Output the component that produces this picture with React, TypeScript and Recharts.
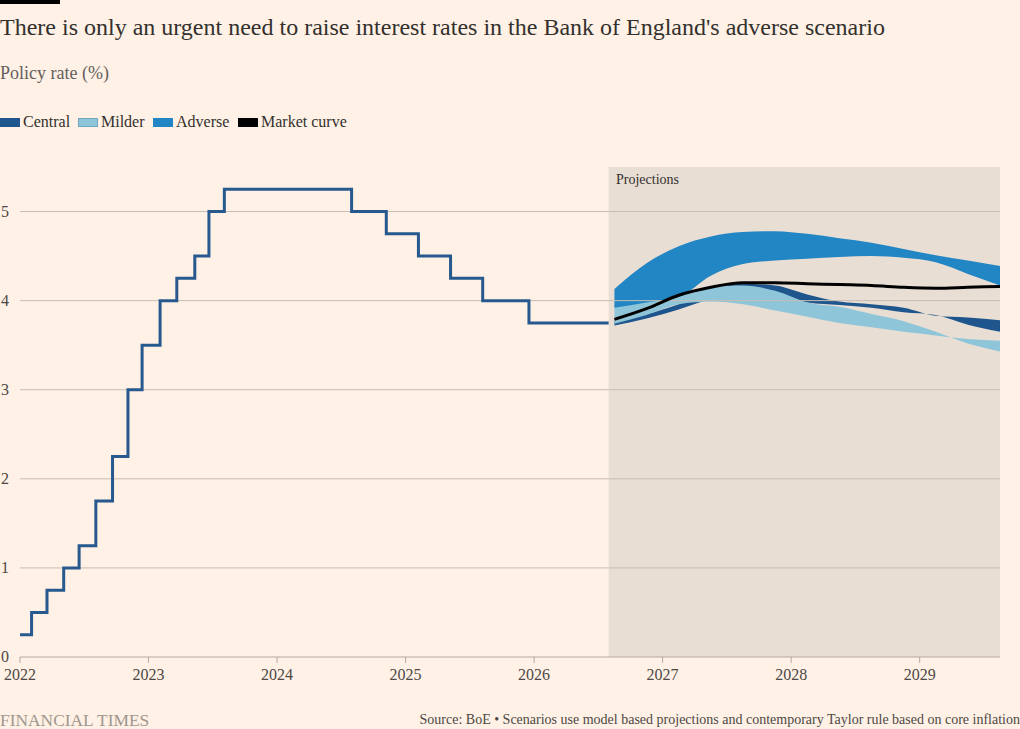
import React from "react";
import {
  ComposedChart,
  Line,
  Area,
  XAxis,
  YAxis,
  ReferenceArea,
  ReferenceLine,
} from "recharts";

// tick labels
const yearTicks = [2022, 2023, 2024, 2025, 2026, 2027, 2028, 2029];
const rateTicks = [0, 1, 2, 3, 4, 5];

// Bank Rate history (decimal year of each decision, new rate)
const historyDates = [
  2022.0, 2022.09, 2022.21, 2022.34, 2022.46, 2022.59, 2022.72, 2022.84,
  2022.95, 2023.09, 2023.22, 2023.36, 2023.47, 2023.59, 2024.58, 2024.85,
  2025.1, 2025.35, 2025.6, 2025.96, 2026.58,
];
const historyRates = [
  0.25, 0.5, 0.75, 1.0, 1.25, 1.75, 2.25, 3.0, 3.5, 4.0, 4.25, 4.5, 5.0, 5.25,
  5.0, 4.75, 4.5, 4.25, 4.0, 3.75, 3.75,
];

// projections, quarterly
const projDates = [
  2026.625, 2026.875, 2027.125, 2027.375, 2027.625, 2027.875, 2028.125,
  2028.375, 2028.625, 2028.875, 2029.125, 2029.375, 2029.625,
];
const centralLow = [3.72, 3.8, 3.9, 4.02, 4.1, 4.05, 3.98, 3.95, 3.92, 3.87, 3.84, 3.73, 3.65];
const centralHigh = [3.77, 3.85, 3.96, 4.12, 4.19, 4.17, 4.07, 3.99, 3.96, 3.92, 3.83, 3.81, 3.78];
const milderLow = [3.74, 3.84, 3.96, 3.99, 3.96, 3.89, 3.82, 3.75, 3.7, 3.65, 3.61, 3.57, 3.55];
const milderHigh = [3.95, 4.0, 4.06, 4.15, 4.17, 4.11, 3.98, 3.93, 3.85, 3.77, 3.65, 3.52, 3.43];
const adverseLow = [3.92, 3.98, 4.04, 4.28, 4.41, 4.45, 4.47, 4.49, 4.5, 4.48, 4.43, 4.3, 4.17];
const adverseHigh = [4.13, 4.42, 4.61, 4.72, 4.77, 4.78, 4.75, 4.7, 4.65, 4.58, 4.51, 4.45, 4.39];
const marketCurve = [3.79, 3.91, 4.06, 4.15, 4.2, 4.2, 4.19, 4.18, 4.17, 4.15, 4.14, 4.15, 4.16];

const legendNames = ["Central", "Milder", "Adverse", "Market curve"];
const legendColors = ["#1e558c", "#8fc5d9", "#2386c4", "#000000"];

const history = historyDates.map((t, i) => ({ t, rate: historyRates[i] }));
const projection = projDates.map((t, i) => ({
  t,
  central: [centralLow[i], centralHigh[i]],
  milder: [milderLow[i], milderHigh[i]],
  adverse: [adverseLow[i], adverseHigh[i]],
  market: marketCurve[i],
}));

const serif = "'Liberation Serif', 'Times New Roman', serif";
const legendX = [0, 78, 153, 238];

const YTick = (props: any) => {
  const { y, payload } = props;
  return (
    <text x={1} y={y} dy={5} fill="#4d4845" fontSize={16} fontFamily={serif} textAnchor="start">
      {payload.value}
    </text>
  );
};

export default function App() {
  return (
    <div
      style={{
        position: "absolute",
        left: 0,
        top: 0,
        width: 1020,
        height: 729,
        background: "#fff1e5",
        fontFamily: serif,
        overflow: "hidden",
      }}
    >
      <div style={{ position: "absolute", left: 0, top: 0, width: 60, height: 4, background: "#000" }} />
      <div style={{ position: "absolute", left: 0, top: 12, fontSize: 24, lineHeight: "30px", color: "#33302e", whiteSpace: "nowrap" }}>
        There is only an urgent need to raise interest rates in the Bank of England's adverse scenario
      </div>
      <div style={{ position: "absolute", left: 0, top: 61, fontSize: 18, lineHeight: "24px", color: "#66605c" }}>
        Policy rate (%)
      </div>
      {legendNames.map((name, i) => (
        <div key={name} style={{ position: "absolute", left: legendX[i], top: 112, height: 20, display: "flex", alignItems: "center", whiteSpace: "nowrap" }}>
          <span
            style={{
              display: "inline-block",
              width: 20,
              height: 9,
              background: legendColors[i],
              boxSizing: "border-box",
              border: name === "Milder" ? "1px solid #6fa7c0" : "none",
              marginRight: 3,
            }}
          />
          <span style={{ fontSize: 16, color: "#33302e" }}>{name}</span>
        </div>
      ))}

      <div style={{ position: "absolute", left: 0, top: 0 }}>
        <ComposedChart width={1020} height={729} margin={{ top: 167, right: 20, bottom: 42, left: 0 }}>
          <XAxis
            dataKey="t"
            type="number"
            domain={[2022, 2029.625]}
            ticks={yearTicks}
            allowDataOverflow
            stroke="#b3aaa1"
            tickSize={6}
            tickMargin={6}
            height={30}
            tick={{ fill: "#4d4845", fontSize: 16, fontFamily: serif }}
          />
          <YAxis
            type="number"
            domain={[0, 5.5]}
            ticks={rateTicks}
            width={20}
            axisLine={false}
            tickLine={false}
            tick={<YTick />}
          />
          <ReferenceArea x1={2026.58} x2={2029.625} y1={0} y2={5.5} fill="#e9ded4" fillOpacity={1} stroke="none" />
          {rateTicks.slice(1).map((v) => (
            <ReferenceLine key={v} y={v} stroke="#c6bdb4" strokeWidth={1} />
          ))}
          <Area data={projection} dataKey="central" type="monotone" fill="#1e558c" fillOpacity={1} stroke="none" isAnimationActive={false} />
          <Area data={projection} dataKey="milder" type="monotone" fill="#8fc5d9" fillOpacity={1} stroke="none" isAnimationActive={false} />
          <Area data={projection} dataKey="adverse" type="monotone" fill="#2386c4" fillOpacity={1} stroke="none" isAnimationActive={false} />
          <Line data={history} dataKey="rate" type="stepAfter" stroke="#27598f" strokeWidth={3} dot={false} isAnimationActive={false} />
          <Line data={projection} dataKey="market" type="monotone" stroke="#000000" strokeWidth={3} dot={false} isAnimationActive={false} />
        </ComposedChart>
      </div>

      <div style={{ position: "absolute", left: 616, top: 172, fontSize: 14, color: "#33302e" }}>Projections</div>
      <div style={{ position: "absolute", left: 0, top: 710, fontSize: 17.4, color: "#a0978e" }}>FINANCIAL TIMES</div>
      <div style={{ position: "absolute", right: 0, top: 712, fontSize: 14, color: "#4d4845", whiteSpace: "nowrap" }}>
        Source: BoE • Scenarios use model based projections and contemporary Taylor rule based on core inflation
      </div>
    </div>
  );
}
